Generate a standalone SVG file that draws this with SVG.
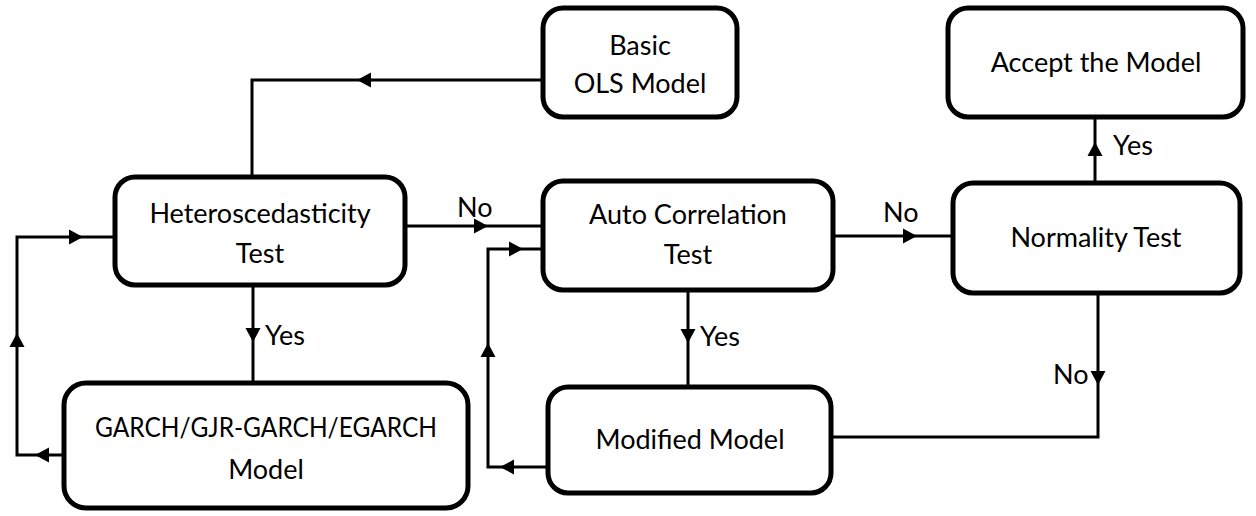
<svg xmlns="http://www.w3.org/2000/svg" xmlns:xlink="http://www.w3.org/1999/xlink" width="1256" height="516" viewBox="0 0 1256 516">
<style>
.box{fill:#fff;stroke:#000;stroke-width:5}
.ln{fill:none;stroke:#000;stroke-width:3}
.t{font-family:Lato,"Liberation Sans",sans-serif;font-size:27px;fill:#000;text-anchor:middle}
.lb{font-family:Lato,"Liberation Sans",sans-serif;font-size:27px;fill:#000}
</style>
<defs>
<path id="ah" d="M0,0 L-14,-7.5 L-14,7.5 Z" fill="#000"/>
</defs>
<rect width="1256" height="516" fill="#fff"/>
<g id="connectors">
<path class="ln" d="M543,80 H252 V177"/>
<use xlink:href="#ah" transform="translate(357,80) rotate(180)"/>
<path class="ln" d="M64,455 H17 V237 H115"/>
<use xlink:href="#ah" transform="translate(35,455) rotate(180)"/>
<use xlink:href="#ah" transform="translate(17,333) rotate(-90)"/>
<use xlink:href="#ah" transform="translate(83,237)"/>
<path class="ln" d="M405,226 H543"/>
<use xlink:href="#ah" transform="translate(488,226)"/>
<path class="ln" d="M253,285 V386"/>
<use xlink:href="#ah" transform="translate(253,342) rotate(90)"/>
<path class="ln" d="M548,467 H488 V249 H543"/>
<use xlink:href="#ah" transform="translate(500,467) rotate(180)"/>
<use xlink:href="#ah" transform="translate(488,343) rotate(-90)"/>
<use xlink:href="#ah" transform="translate(523,249)"/>
<path class="ln" d="M833,236 H953"/>
<use xlink:href="#ah" transform="translate(917,236)"/>
<path class="ln" d="M688,290 V386"/>
<use xlink:href="#ah" transform="translate(688,343) rotate(90)"/>
<path class="ln" d="M1095,183 V116"/>
<use xlink:href="#ah" transform="translate(1095,142) rotate(-90)"/>
<path class="ln" d="M1098,293 V437 H831"/>
<use xlink:href="#ah" transform="translate(1098,385) rotate(90)"/>
<text class="lb" x="457" y="217">No</text>
<text class="lb" x="883" y="222">No</text>
<text class="lb" x="1053" y="384">No</text>
<text class="lb" x="265" y="345">Yes</text>
<text class="lb" x="700" y="346">Yes</text>
<text class="lb" x="1113" y="155">Yes</text>
</g>
<g id="basic">
<rect class="box" x="543" y="8" width="194" height="109" rx="20"/>
<text class="t" x="640" y="55">Basic</text>
<text class="t" x="640" y="93">OLS Model</text>
</g>
<g id="accept">
<rect class="box" x="948" y="8" width="295" height="109" rx="20"/>
<text class="t" x="1096" y="72">Accept the Model</text>
</g>
<g id="hetero">
<rect class="box" x="115" y="177" width="290" height="108" rx="20"/>
<text class="t" x="260" y="223">Heteroscedasticity</text>
<text class="t" x="260" y="263">Test</text>
</g>
<g id="auto">
<rect class="box" x="543" y="181" width="290" height="109" rx="20"/>
<text class="t" x="688" y="224">Auto Correlation</text>
<text class="t" x="688" y="264">Test</text>
</g>
<g id="normality">
<rect class="box" x="953" y="183" width="287" height="110" rx="20"/>
<text class="t" x="1096" y="247">Normality Test</text>
</g>
<g id="garch">
<rect class="box" x="64" y="383" width="404" height="125" rx="22"/>
<text class="t" x="266" y="437" textLength="342" lengthAdjust="spacingAndGlyphs">GARCH/GJR-GARCH/EGARCH</text>
<text class="t" x="266" y="479">Model</text>
</g>
<g id="modified">
<rect class="box" x="548" y="387" width="283" height="106" rx="20"/>
<text class="t" x="690" y="449">Modified Model</text>
</g>
</svg>
